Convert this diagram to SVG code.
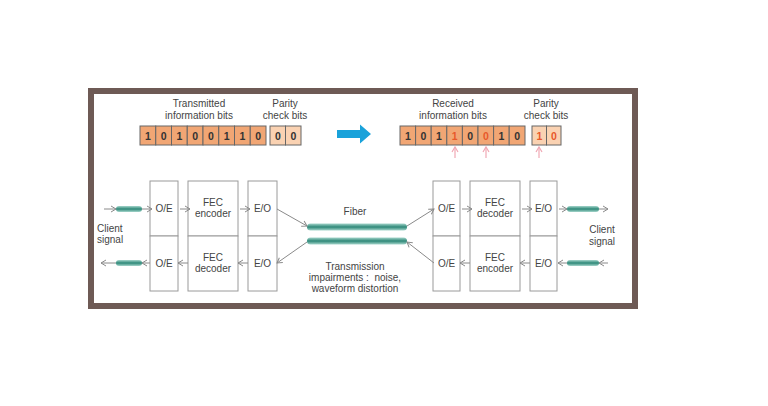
<svg xmlns="http://www.w3.org/2000/svg" width="768" height="406" viewBox="0 0 768 406">
<defs>
<style>
.t{font-family:"Liberation Sans",Arial,sans-serif;font-size:10px;fill:#444;text-anchor:middle}
.d{font-family:"Liberation Sans",Arial,sans-serif;font-size:10.5px;font-weight:bold;fill:#333;text-anchor:middle}
.r{fill:#e8582a}
.info{fill:#f1a674;stroke:#666;stroke-width:1}
.par{fill:#fad2b2;stroke:#666;stroke-width:1}
.box{fill:#fff;stroke:#9a9a9a;stroke-width:1}
.ln{stroke:#8a8a8a;stroke-width:1;fill:none;marker-end:url(#ah)}
.pk{stroke:#f0a8b4;stroke-width:1.2;fill:none;marker-end:url(#ahp)}
.fb{fill:url(#fg)}
</style>
<marker id="ah" markerWidth="8" markerHeight="8" refX="6" refY="4" orient="auto" markerUnits="userSpaceOnUse">
<path d="M1,1 L6,4 L1,7" fill="none" stroke="#8a8a8a" stroke-width="1"/>
</marker>
<marker id="ahp" markerWidth="8" markerHeight="8" refX="6" refY="4" orient="auto" markerUnits="userSpaceOnUse">
<path d="M1,1 L6,4 L1,7" fill="none" stroke="#f0a8b4" stroke-width="1.2"/>
</marker>
<linearGradient id="fg" x1="0" y1="0" x2="0" y2="1">
<stop offset="0" stop-color="#a6d6cc"/>
<stop offset="0.5" stop-color="#2e8878"/>
<stop offset="1" stop-color="#a6d6cc"/>
</linearGradient>
</defs>
<rect width="768" height="406" fill="#fff"/>
<rect id="frame" x="91" y="91" width="544" height="215" fill="#fff" stroke="#6e5a55" stroke-width="6"/>

<g id="tx-labels">
<text class="t" x="199" y="107">Transmitted</text>
<text class="t" x="199" y="119">information bits</text>
<text class="t" x="285" y="107">Parity</text>
<text class="t" x="285" y="119">check bits</text>
</g>
<g id="tx-bits">
<rect class="info" x="140" y="126" width="15.75" height="19"/>
<rect class="info" x="155.75" y="126" width="15.75" height="19"/>
<rect class="info" x="171.5" y="126" width="15.75" height="19"/>
<rect class="info" x="187.25" y="126" width="15.75" height="19"/>
<rect class="info" x="203" y="126" width="15.75" height="19"/>
<rect class="info" x="218.75" y="126" width="15.75" height="19"/>
<rect class="info" x="234.5" y="126" width="15.75" height="19"/>
<rect class="info" x="250.25" y="126" width="15.75" height="19"/>
<rect class="par" x="270" y="126" width="15.5" height="19"/>
<rect class="par" x="285.5" y="126" width="15.5" height="19"/>
<text class="d" x="147.9" y="139.5">1</text>
<text class="d" x="163.6" y="139.5">0</text>
<text class="d" x="179.4" y="139.5">1</text>
<text class="d" x="195.1" y="139.5">0</text>
<text class="d" x="210.9" y="139.5">0</text>
<text class="d" x="226.6" y="139.5">1</text>
<text class="d" x="242.4" y="139.5">1</text>
<text class="d" x="258.1" y="139.5">0</text>
<text class="d" x="277.8" y="139.5">0</text>
<text class="d" x="293.3" y="139.5">0</text>
</g>

<g id="big-arrow">
<path d="M337,130 L360,130 L360,124.5 L371,134 L360,143.5 L360,138 L337,138 Z" fill="#1aa2da"/>
</g>

<g id="rx-labels">
<text class="t" x="453" y="107">Received</text>
<text class="t" x="453" y="119">information bits</text>
<text class="t" x="546" y="107">Parity</text>
<text class="t" x="546" y="119">check bits</text>
</g>
<g id="rx-bits">
<rect class="info" x="400" y="126" width="15.6" height="19"/>
<rect class="info" x="415.6" y="126" width="15.6" height="19"/>
<rect class="info" x="431.2" y="126" width="15.6" height="19"/>
<rect class="info" x="446.8" y="126" width="15.6" height="19"/>
<rect class="info" x="462.4" y="126" width="15.6" height="19"/>
<rect class="info" x="478" y="126" width="15.6" height="19"/>
<rect class="info" x="493.6" y="126" width="15.6" height="19"/>
<rect class="info" x="509.2" y="126" width="15.8" height="19"/>
<rect class="par" x="532" y="126" width="14.5" height="19"/>
<rect class="par" x="546.5" y="126" width="14.5" height="19"/>
<text class="d" x="407.8" y="139.5">1</text>
<text class="d" x="423.4" y="139.5">0</text>
<text class="d" x="439" y="139.5">1</text>
<text class="d r" x="454.6" y="139.5">1</text>
<text class="d" x="470.2" y="139.5">0</text>
<text class="d r" x="485.8" y="139.5">0</text>
<text class="d" x="501.4" y="139.5">1</text>
<text class="d" x="517.1" y="139.5">0</text>
<text class="d r" x="539.3" y="139.5">1</text>
<text class="d r" x="553.8" y="139.5">0</text>
</g>
<g id="error-marks">
<line class="pk" x1="455" y1="158" x2="455" y2="147"/>
<line class="pk" x1="486" y1="158" x2="486" y2="147"/>
<line class="pk" x1="539" y1="158" x2="539" y2="147"/>
</g>

<g id="tx-oe"><rect class="box" x="150" y="181" width="28" height="55"/><text class="t" x="164" y="212">O/E</text></g>
<g id="tx-fec-enc"><rect class="box" x="188" y="181" width="50" height="55"/><text class="t" x="213" y="206">FEC</text><text class="t" x="213" y="217">encoder</text></g>
<g id="tx-eo"><rect class="box" x="248" y="181" width="29" height="55"/><text class="t" x="262.5" y="212">E/O</text></g>
<g id="rx-oe-l"><rect class="box" x="150" y="236" width="28" height="55"/><text class="t" x="164" y="267">O/E</text></g>
<g id="rx-fec-dec-l"><rect class="box" x="188" y="236" width="50" height="55"/><text class="t" x="213" y="261">FEC</text><text class="t" x="213" y="272">decoder</text></g>
<g id="rx-eo-l"><rect class="box" x="248" y="236" width="29" height="55"/><text class="t" x="262.5" y="267">E/O</text></g>

<g id="rx-oe"><rect class="box" x="433" y="181" width="27" height="55"/><text class="t" x="446.5" y="212">O/E</text></g>
<g id="rx-fec-dec"><rect class="box" x="470" y="181" width="50" height="55"/><text class="t" x="495" y="206">FEC</text><text class="t" x="495" y="217">decoder</text></g>
<g id="rx-eo"><rect class="box" x="530" y="181" width="27" height="55"/><text class="t" x="543.5" y="212">E/O</text></g>
<g id="tx-oe-r"><rect class="box" x="433" y="236" width="27" height="55"/><text class="t" x="446.5" y="267">O/E</text></g>
<g id="tx-fec-enc-r"><rect class="box" x="470" y="236" width="50" height="55"/><text class="t" x="495" y="261">FEC</text><text class="t" x="495" y="272">encoder</text></g>
<g id="tx-eo-r"><rect class="box" x="530" y="236" width="27" height="55"/><text class="t" x="543.5" y="267">E/O</text></g>

<g id="fibers">
<rect class="fb" x="307" y="223.5" width="100" height="7" rx="3.5"/>
<rect class="fb" x="307" y="237.5" width="100" height="7" rx="3.5"/>
<rect class="fb" x="116" y="206" width="26" height="6" rx="3"/>
<rect class="fb" x="116" y="260" width="26" height="6" rx="3"/>
<rect class="fb" x="567" y="206" width="32" height="6" rx="3"/>
<rect class="fb" x="567" y="260" width="32" height="6" rx="3"/>
</g>

<g id="labels">
<text class="t" x="355" y="215">Fiber</text>
<text class="t" x="355" y="270">Transmission</text>
<text class="t" x="355" y="281">impairments :&#160;&#160;noise,</text>
<text class="t" x="355" y="292">waveform distortion</text>
<text class="t" x="97" y="232" style="text-anchor:start">Client</text>
<text class="t" x="97" y="243" style="text-anchor:start">signal</text>
<text class="t" x="602" y="233">Client</text>
<text class="t" x="602" y="245">signal</text>
</g>

<g id="connectors">
<line class="ln" x1="104" y1="209" x2="116" y2="209"/>
<line class="ln" x1="142" y1="209" x2="152" y2="209"/>
<line class="ln" x1="180" y1="209" x2="190" y2="209"/>
<line class="ln" x1="240" y1="209" x2="250" y2="209"/>
<line class="ln" x1="277" y1="209" x2="307" y2="226"/>
<line class="ln" x1="407" y1="226" x2="434" y2="209"/>
<line class="ln" x1="462" y1="209" x2="472" y2="209"/>
<line class="ln" x1="522" y1="209" x2="532" y2="209"/>
<line class="ln" x1="559" y1="209" x2="567" y2="209"/>
<line class="ln" x1="599" y1="209" x2="608" y2="209"/>

<line class="ln" x1="608" y1="263" x2="599" y2="263"/>
<line class="ln" x1="567" y1="263" x2="558" y2="263"/>
<line class="ln" x1="530" y1="263" x2="520" y2="263"/>
<line class="ln" x1="470" y1="263" x2="460" y2="263"/>
<line class="ln" x1="434" y1="263" x2="407" y2="242"/>
<line class="ln" x1="307" y1="242" x2="277" y2="263"/>
<line class="ln" x1="248" y1="263" x2="238" y2="263"/>
<line class="ln" x1="188" y1="263" x2="178" y2="263"/>
<line class="ln" x1="150" y1="263" x2="142" y2="263"/>
<line class="ln" x1="116" y1="263" x2="101" y2="263"/>
</g>
</svg>
